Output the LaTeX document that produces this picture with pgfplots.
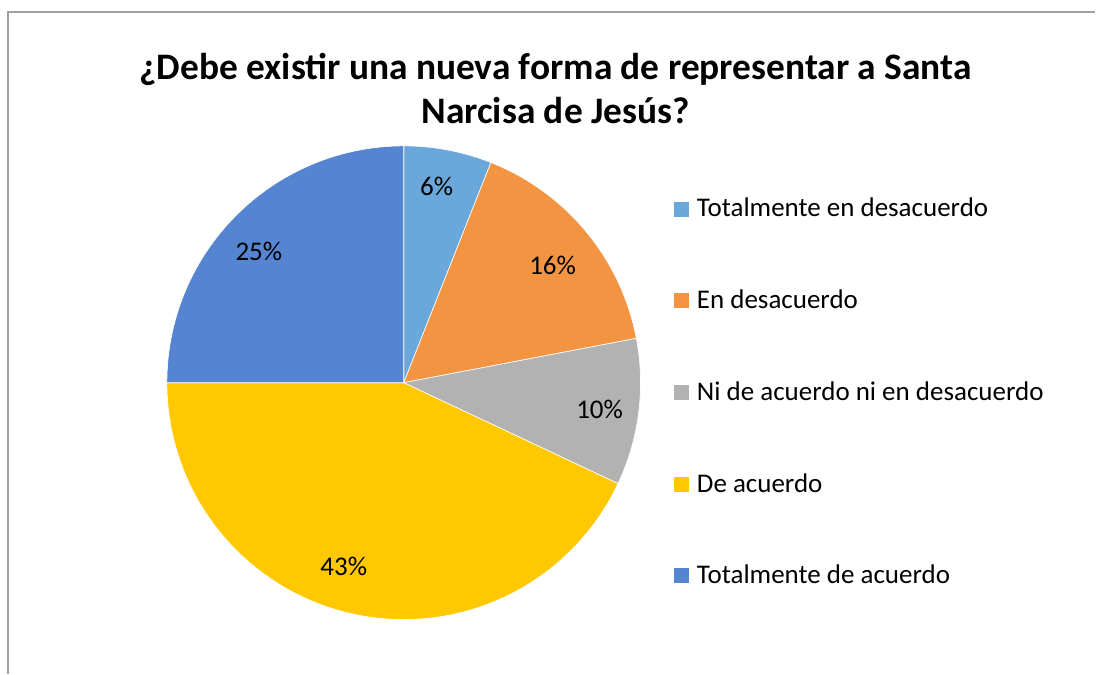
\documentclass[border=0pt]{standalone}
\usepackage{pgfplots}
\pgfplotsset{compat=1.18}
\usepackage{fontspec}
\setmainfont{Carlito}
\definecolor{c1}{HTML}{6AA8DC}
\definecolor{c2}{HTML}{F39442}
\definecolor{c3}{HTML}{B2B2B2}
\definecolor{c4}{HTML}{FFC800}
\definecolor{c5}{HTML}{5585D0}
\definecolor{frame}{HTML}{A0A0A0}
\begin{document}
\begin{tikzpicture}
\begin{axis}[
  x=0.5pt, y=0.5pt,
  xmin=0, xmax=1096, ymin=0, ymax=674,
  hide axis, clip=false,
  legend style={draw=none, fill=none, at={(axis cs:668,674-191)}, anchor=north west,
    font=\fontsize{13.5pt}{16pt}\selectfont, row sep=32pt,
    nodes={inner sep=1.5pt, anchor=west}},
  legend cell align=left,
  legend image code/.code={\fill[#1,draw=none] (0pt,-3.75pt) rectangle (7.5pt,3.75pt);\path[draw=none,fill=none] (0pt,0pt) -- (10pt,0pt);},
]
\path[draw=none] (axis cs:0,0) rectangle (axis cs:1096,674);
\draw[frame, line width=0.75pt] (axis cs:8,0) -- (axis cs:8,662) -- (axis cs:1096,662);
% slices: 6%, 16%, 10%, 43%, 25% (clockwise from top)
\addplot[fill=c1, draw=white, line width=0.3pt, domain=68.4:90, samples=20, variable=\t]
  ({404+237*cos(t)},{291+237*sin(t)}) -- (axis cs:404,291) -- cycle;
\addlegendentry{Totalmente en desacuerdo}
\addplot[fill=c2, draw=white, line width=0.3pt, domain=10.8:68.4, samples=40, variable=\t]
  ({404+237*cos(t)},{291+237*sin(t)}) -- (axis cs:404,291) -- cycle;
\addlegendentry{En desacuerdo}
\addplot[fill=c3, draw=white, line width=0.3pt, domain=-25.2:10.8, samples=30, variable=\t]
  ({404+237*cos(t)},{291+237*sin(t)}) -- (axis cs:404,291) -- cycle;
\addlegendentry{Ni de acuerdo ni en desacuerdo}
\addplot[fill=c4, draw=white, line width=0.3pt, domain=-180:-25.2, samples=90, variable=\t]
  ({404+237*cos(t)},{291+237*sin(t)}) -- (axis cs:404,291) -- cycle;
\addlegendentry{De acuerdo}
\addplot[fill=c5, draw=white, line width=0.3pt, domain=90:180, samples=60, variable=\t]
  ({404+237*cos(t)},{291+237*sin(t)}) -- (axis cs:404,291) -- cycle;
\addlegendentry{Totalmente de acuerdo}
\begin{scope}[font=\fontsize{13.5pt}{16pt}\selectfont]
\node at (axis cs:437,674-187) {6\%};
\node at (axis cs:553,674-266) {16\%};
\node at (axis cs:600,674-410) {10\%};
\node at (axis cs:344,674-567) {43\%};
\node at (axis cs:259,674-252) {25\%};
\end{scope}
\node[align=center, font=\fontsize{18.7pt}{22pt}\selectfont\bfseries] at (axis cs:556,674-89)
  {¿Debe existir una nueva forma de representar a Santa\\Narcisa de Jesús?};
\end{axis}
\end{tikzpicture}
\end{document}
